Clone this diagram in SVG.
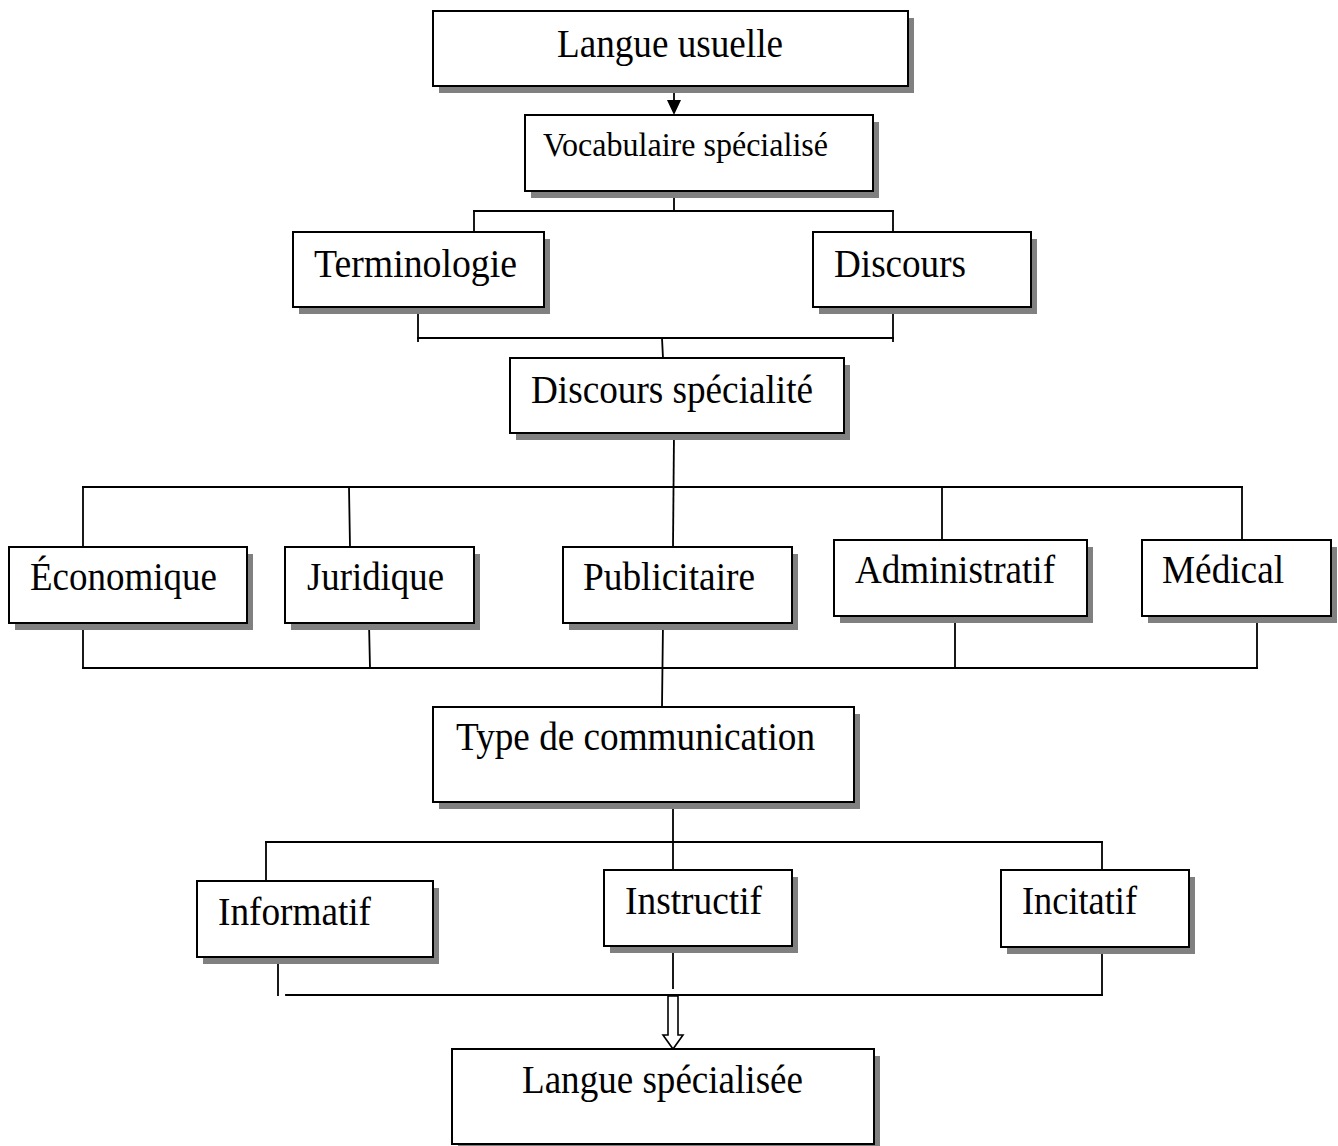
<svg xmlns="http://www.w3.org/2000/svg" width="1338" height="1146" viewBox="0 0 1338 1146">
  <style>
    .shadow { fill: #808080; stroke: none; }
    .box { fill: #ffffff; stroke: #000000; stroke-width: 2; }
    .label { font-family: "Liberation Serif", "Times New Roman", serif; font-size: 39px; fill: #000000; }
    .small { font-size: 33px; }
    .wire { fill: none; stroke: #000000; stroke-width: 1.8; stroke-linecap: square; }
  </style>
  <rect width="1338" height="1146" fill="#ffffff"/>

  <!-- connectors -->
  <g id="connectors">
    <!-- Langue usuelle -> Vocabulaire -->
    <line class="wire" x1="674" y1="87" x2="674" y2="100"/>
    <path d="M667,100 L681,100 L674,115 Z" fill="#000000"/>
    <!-- Vocabulaire -> Terminologie / Discours -->
    <line class="wire" x1="674" y1="191" x2="674" y2="211"/>
    <line class="wire" x1="474" y1="211" x2="893" y2="211"/>
    <line class="wire" x1="474" y1="211" x2="474" y2="232"/>
    <line class="wire" x1="893" y1="211" x2="893" y2="232"/>
    <!-- Terminologie / Discours -> Discours spécialité -->
    <line class="wire" x1="418" y1="307" x2="418" y2="341"/>
    <line class="wire" x1="893" y1="307" x2="893" y2="341"/>
    <line class="wire" x1="418" y1="338" x2="893" y2="338"/>
    <line class="wire" x1="662" y1="338" x2="663" y2="358"/>
    <!-- Discours spécialité -> domains -->
    <line class="wire" x1="674" y1="433" x2="673" y2="547"/>
    <line class="wire" x1="83" y1="487" x2="1242" y2="487"/>
    <line class="wire" x1="83" y1="487" x2="83" y2="547"/>
    <line class="wire" x1="349" y1="487" x2="350" y2="547"/>
    <line class="wire" x1="942" y1="487" x2="942" y2="540"/>
    <line class="wire" x1="1242" y1="487" x2="1242" y2="540"/>
    <!-- domains -> Type de communication -->
    <line class="wire" x1="83" y1="623" x2="83" y2="668"/>
    <line class="wire" x1="369" y1="623" x2="370" y2="668"/>
    <line class="wire" x1="955" y1="616" x2="955" y2="668"/>
    <line class="wire" x1="1257" y1="616" x2="1257" y2="668"/>
    <line class="wire" x1="83" y1="668" x2="1257" y2="668"/>
    <line class="wire" x1="663" y1="623" x2="662" y2="707"/>
    <!-- Type de communication -> types -->
    <line class="wire" x1="673" y1="802" x2="673" y2="870"/>
    <line class="wire" x1="266" y1="842" x2="1102" y2="842"/>
    <line class="wire" x1="266" y1="842" x2="266" y2="881"/>
    <line class="wire" x1="1102" y1="842" x2="1102" y2="870"/>
    <!-- types -> Langue spécialisée -->
    <line class="wire" x1="278" y1="957" x2="278" y2="995"/>
    <line class="wire" x1="673" y1="946" x2="673" y2="988"/>
    <line class="wire" x1="1102" y1="947" x2="1102" y2="995"/>
    <line class="wire" x1="286" y1="995" x2="1102" y2="995"/>
    <path d="M668,996 V1035 H663 L673,1049 L683,1035 H678 V996 Z" fill="#ffffff" stroke="#000000" stroke-width="1.6" stroke-linejoin="miter"/>
  </g>

  <g id="langue-usuelle">
    <rect class="shadow" x="439" y="18" width="475" height="75"/>
    <rect class="box" x="433" y="11" width="475" height="75"/>
    <text class="label" x="557" y="57" textLength="226" lengthAdjust="spacingAndGlyphs">Langue usuelle</text>
  </g>

  <g id="vocabulaire">
    <rect class="shadow" x="531" y="122" width="348" height="76"/>
    <rect class="box" x="525" y="115" width="348" height="76"/>
    <text class="label small" x="543" y="156" textLength="285" lengthAdjust="spacingAndGlyphs">Vocabulaire spécialisé</text>
  </g>

  <g id="terminologie">
    <rect class="shadow" x="299" y="239" width="251" height="75"/>
    <rect class="box" x="293" y="232" width="251" height="75"/>
    <text class="label" x="314" y="277" textLength="203" lengthAdjust="spacingAndGlyphs">Terminologie</text>
  </g>

  <g id="discours">
    <rect class="shadow" x="819" y="239" width="218" height="75"/>
    <rect class="box" x="813" y="232" width="218" height="75"/>
    <text class="label" x="834" y="277" textLength="132" lengthAdjust="spacingAndGlyphs">Discours</text>
  </g>

  <g id="discours-specialite">
    <rect class="shadow" x="516" y="365" width="334" height="75"/>
    <rect class="box" x="510" y="358" width="334" height="75"/>
    <text class="label" x="531" y="403" textLength="282" lengthAdjust="spacingAndGlyphs">Discours spécialité</text>
  </g>

  <g id="economique">
    <rect class="shadow" x="15" y="554" width="238" height="76"/>
    <rect class="box" x="9" y="547" width="238" height="76"/>
    <text class="label" x="30" y="590" textLength="187" lengthAdjust="spacingAndGlyphs">Économique</text>
  </g>

  <g id="juridique">
    <rect class="shadow" x="291" y="554" width="189" height="76"/>
    <rect class="box" x="285" y="547" width="189" height="76"/>
    <text class="label" x="307" y="590" textLength="137" lengthAdjust="spacingAndGlyphs">Juridique</text>
  </g>

  <g id="publicitaire">
    <rect class="shadow" x="569" y="554" width="229" height="76"/>
    <rect class="box" x="563" y="547" width="229" height="76"/>
    <text class="label" x="583" y="590" textLength="172" lengthAdjust="spacingAndGlyphs">Publicitaire</text>
  </g>

  <g id="administratif">
    <rect class="shadow" x="840" y="547" width="253" height="76"/>
    <rect class="box" x="834" y="540" width="253" height="76"/>
    <text class="label" x="855" y="583" textLength="200" lengthAdjust="spacingAndGlyphs">Administratif</text>
  </g>

  <g id="medical">
    <rect class="shadow" x="1148" y="547" width="189" height="76"/>
    <rect class="box" x="1142" y="540" width="189" height="76"/>
    <text class="label" x="1162" y="583" textLength="122" lengthAdjust="spacingAndGlyphs">Médical</text>
  </g>

  <g id="type-communication">
    <rect class="shadow" x="439" y="714" width="421" height="95"/>
    <rect class="box" x="433" y="707" width="421" height="95"/>
    <text class="label" x="456" y="750" textLength="359" lengthAdjust="spacingAndGlyphs">Type de communication</text>
  </g>

  <g id="informatif">
    <rect class="shadow" x="203" y="888" width="236" height="76"/>
    <rect class="box" x="197" y="881" width="236" height="76"/>
    <text class="label" x="218" y="925" textLength="153" lengthAdjust="spacingAndGlyphs">Informatif</text>
  </g>

  <g id="instructif">
    <rect class="shadow" x="610" y="877" width="188" height="76"/>
    <rect class="box" x="604" y="870" width="188" height="76"/>
    <text class="label" x="625" y="914" textLength="137" lengthAdjust="spacingAndGlyphs">Instructif</text>
  </g>

  <g id="incitatif">
    <rect class="shadow" x="1007" y="877" width="188" height="77"/>
    <rect class="box" x="1001" y="870" width="188" height="77"/>
    <text class="label" x="1022" y="914" textLength="115" lengthAdjust="spacingAndGlyphs">Incitatif</text>
  </g>

  <g id="langue-specialisee">
    <rect class="shadow" x="458" y="1056" width="422" height="95"/>
    <rect class="box" x="452" y="1049" width="422" height="95"/>
    <text class="label" x="522" y="1093" textLength="281" lengthAdjust="spacingAndGlyphs">Langue spécialisée</text>
  </g>
</svg>
